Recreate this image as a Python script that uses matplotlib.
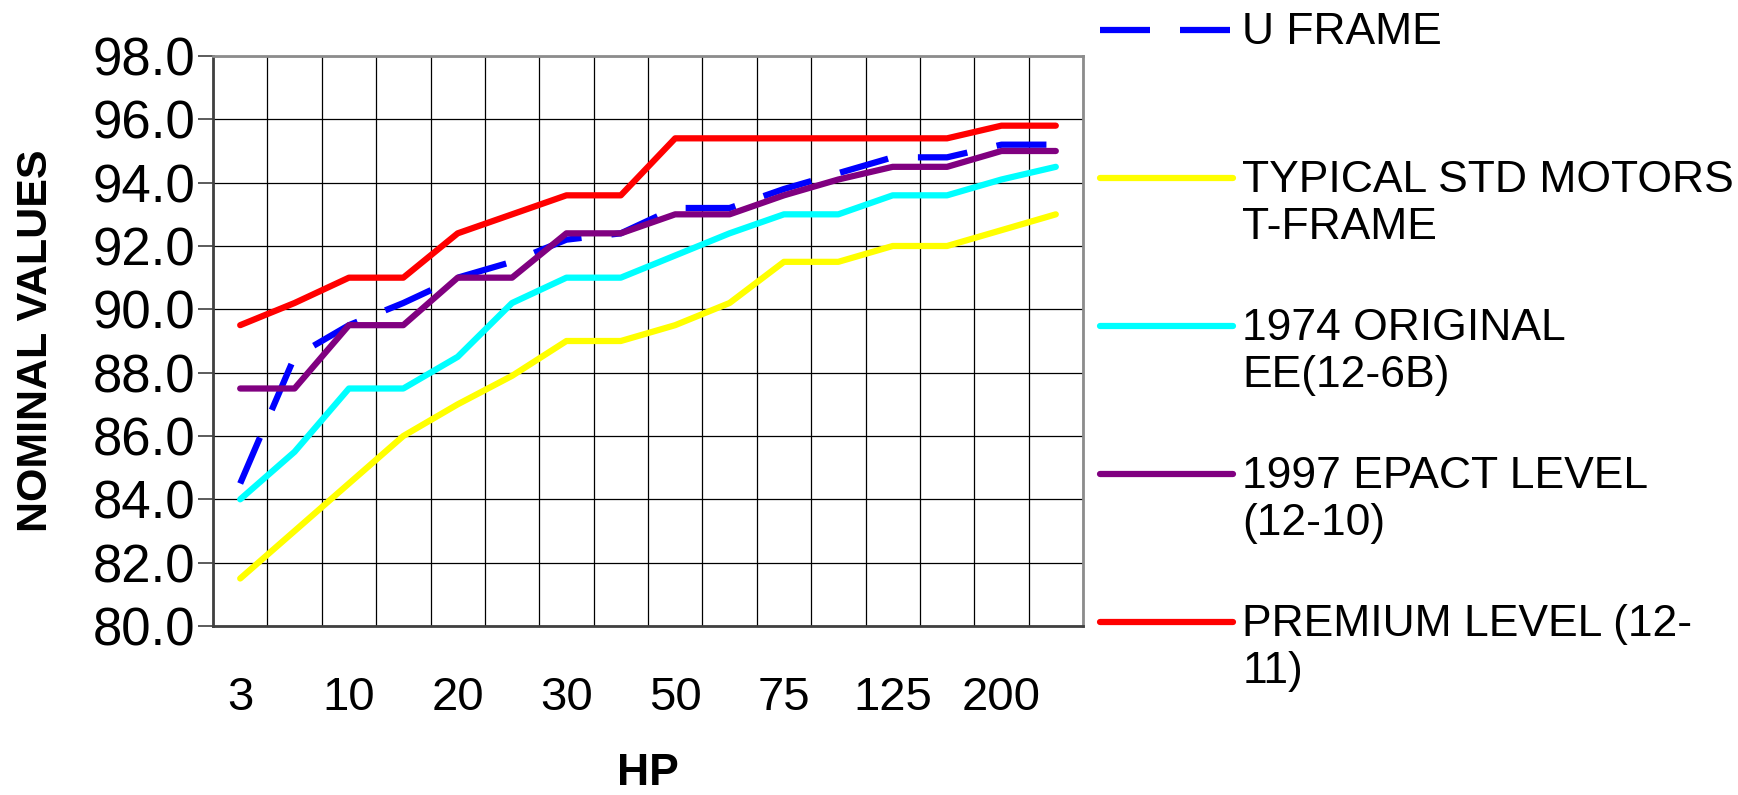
import numpy as np
import matplotlib
matplotlib.use("Agg")
import matplotlib.pyplot as plt
from matplotlib.legend_handler import HandlerLine2D

# motor size categories (HP) and nominal efficiency levels
hp = [3, 5, 10, 15, 20, 25, 30, 40, 50, 60, 75, 100, 125, 150, 200, 250]
u_frame = [84.5, 88.5, 89.5, 90.2, 91.0, 91.5, 92.2, 92.4, 93.2, 93.2, 93.8, 94.3, 94.8, 94.8, 95.2, 95.2]
typical_std = [81.5, 83.0, 84.5, 86.0, 87.0, 87.9, 89.0, 89.0, 89.5, 90.2, 91.5, 91.5, 92.0, 92.0, 92.5, 93.0]
original_1974 = [84.0, 85.5, 87.5, 87.5, 88.5, 90.2, 91.0, 91.0, 91.7, 92.4, 93.0, 93.0, 93.6, 93.6, 94.1, 94.5]
epact_1997 = [87.5, 87.5, 89.5, 89.5, 91.0, 91.0, 92.4, 92.4, 93.0, 93.0, 93.6, 94.1, 94.5, 94.5, 95.0, 95.0]
premium = [89.5, 90.2, 91.0, 91.0, 92.4, 93.0, 93.6, 93.6, 95.4, 95.4, 95.4, 95.4, 95.4, 95.4, 95.8, 95.8]

series_labels = ["U FRAME\n ", "TYPICAL STD MOTORS\nT-FRAME", "1974 ORIGINAL\nEE(12-6B)",
                 "1997 EPACT LEVEL\n(12-10)", "PREMIUM LEVEL (12-\n11)"]
yticks = np.arange(80, 98.1, 2)

plt.rcParams['font.family'] = ['Liberation Sans', 'DejaVu Sans']


class FirstLineHandler(HandlerLine2D):
    # put the legend sample next to the first text line, like Excel does
    def create_artists(self, legend, orig_handle, xdescent, ydescent, width, height, fontsize, trans):
        artists = super().create_artists(legend, orig_handle, xdescent, ydescent,
                                         width, height, fontsize, trans)
        for a in artists:
            a.set_ydata(np.asarray(a.get_ydata()) + 0.6 * fontsize)
        return artists


fig = plt.figure(figsize=(17.38, 7.95), dpi=100)
ax = fig.add_axes([213 / 1738, 1 - 626 / 795, 870 / 1738, 570 / 795])

x = np.arange(len(hp)) + 0.5
lw = 4.5
handles = []
handles += ax.plot(x, u_frame, color='#0000FF', lw=lw, linestyle=(0, (8.0, 4.8)),
                   dash_capstyle='butt', solid_joinstyle='round')
for vals, col in [(typical_std, '#FFFF00'), (original_1974, '#00FFFF'),
                  (epact_1997, '#800080'), (premium, '#FF0000')]:
    handles += ax.plot(x, vals, color=col, lw=lw, solid_capstyle='round', solid_joinstyle='round')

ax.set_xlim(0, len(hp))
ax.set_ylim(80, 98)

# gridlines on category boundaries, labels on every other category
ax.set_xticks(np.arange(len(hp) + 1))
ax.set_xticklabels([])
ax.set_xticks(x[::2], minor=True)
ax.set_xticklabels([str(h) for h in hp[::2]], minor=True, fontsize=34)
ax.tick_params(axis='x', which='both', length=0, pad=36)
ax.set_yticks(yticks)
ax.set_yticklabels([f'{v:.1f}' for v in yticks], fontsize=38)
ax.tick_params(axis='y', length=11, width=1.2, color='#404040', pad=2)
ax.grid(True, which='major', color='black', lw=0.9)
ax.set_axisbelow(True)

for side in ['top', 'right']:
    ax.spines[side].set_color('#8c8c8c')
    ax.spines[side].set_linewidth(2)
for side in ['left', 'bottom']:
    ax.spines[side].set_color('#404040')
    ax.spines[side].set_linewidth(2)

ax.set_xlabel('HP', fontsize=32, fontweight='bold', labelpad=24)
ax.set_ylabel('NOMINAL VALUES', fontsize=31, fontweight='bold',
              family=['Liberation Sans Narrow', 'Liberation Sans'], labelpad=26)

fig.legend(handles, series_labels, loc='upper left', bbox_to_anchor=(1100 / 1738, 1 - 12 / 795),
           frameon=False, fontsize=32, handlelength=3.0, handletextpad=0.2,
           labelspacing=1.34, borderpad=0, borderaxespad=0,
           handler_map={h: FirstLineHandler() for h in handles})

fig.savefig('out.png', dpi=100)
